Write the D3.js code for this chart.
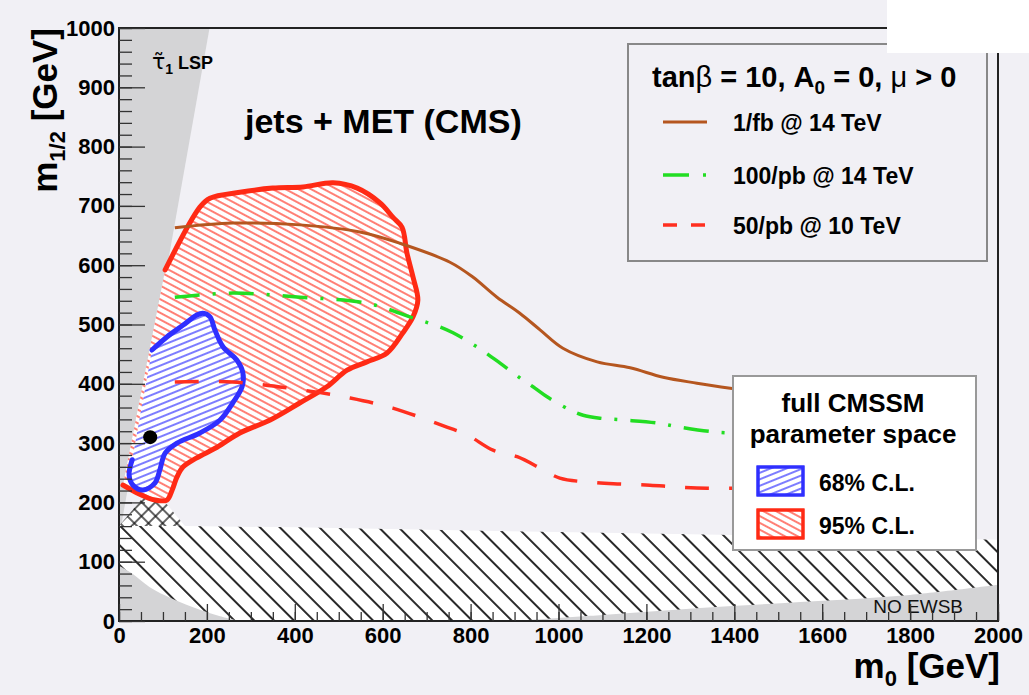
<!DOCTYPE html>
<html>
<head>
<meta charset="utf-8">
<script src="https://cdn.jsdelivr.net/npm/d3@7"></script>
<style>
  body { margin: 0; background: #f1f0f5; }
  svg { display: block; }
  text { font-family: "Liberation Sans", Arial, sans-serif; font-weight: bold; fill: #000; }
  .tick text { font-size: 22px; }
</style>
</head>
<body>
<svg width="1029" height="695"></svg>
<script>
// ---- data (m0, m1/2) in GeV ----
var stauLSP = [[0, 1000], [206, 1000], [0, 140]];
var hatchTop = [[0, 160], [150, 160], [400, 158], [1000, 150], [1500, 144], [2000, 137]];
var lowGray = [[0, 93], [30, 80], [70, 57], [120, 38], [184, 19], [230, 8], [275, 0]];
var noEWSB = [[900, 0], [1100, 10], [1322, 22], [1550, 32], [1800, 44], [2000, 61]];
var crossHatch = [[0, 160], [70, 222], [100, 205], [150, 160]];

var cl95 = [[105,592],[184,698],[207,713],[275,723],[350,730],[419,732],[487,739],[542,730],
  [594,705],[623,681],[644,664],[655,621],[669,580],[680,541],[669,513],[646,486],[610,452],
  [564,437],[519,423],[473,395],[412,368],[344,339],[275,317],[223,293],[177,275],[146,260],
  [132,243],[121,221],[109,204],[82,204],[41,216],[9,229]];
var cl68 = [[75,457],[109,479],[146,499],[177,516],[191,519],[207,513],[218,491],[237,462],
  [268,440],[282,418],[280,395],[259,368],[230,339],[184,317],[132,300],[105,283],[93,255],
  [82,233],[55,221],[32,229],[23,246],[30,272]];
var bestFit = [71, 310];

var lumi1fb14 = [[127,663],[259,671],[412,668],[548,656],[639,637],[753,605],[805,580],[860,546],
  [912,519],[958,491],[1010,460],[1088,437],[1163,427],[1238,411],[1315,401],[1395,392]];
var lumi100pb14 = [[127,546],[259,553],[412,546],[564,536],[669,511],[730,496],[760,486],[815,462],
  [867,435],[912,410],[942,395],[974,378],[1026,356],[1056,347],[1094,342],[1147,339],[1224,334],
  [1276,327],[1352,319],[1395,317]];
var lumi50pb10 = [[127,403],[259,403],[412,390],[526,376],[623,359],[746,327],[792,314],[851,288],
  [906,277],[965,255],[1003,241],[1088,233],[1140,231],[1208,229],[1270,226],[1338,224],[1395,224]];

var xMajor = d3.range(0, 2001, 200);
var xMinor = d3.range(0, 2001, 50);
var yMajor = d3.range(0, 1001, 100);
var yMinor = d3.range(0, 1001, 20);

var lineSeries = [
  {name: '1/fb @ 14 TeV', data: lumi1fb14, color: '#b5561f', width: 3, dash: null},
  {name: '100/pb @ 14 TeV', data: lumi100pb14, color: '#22dd22', width: 3.5, dash: '25,13,3,13'},
  {name: '50/pb @ 10 TeV', data: lumi50pb10, color: '#ff2f1f', width: 3.5, dash: '24,20'}
];

var svg = d3.select('svg');
var x = d3.scaleLinear().domain([0, 2000]).range([119, 998]);
var y = d3.scaleLinear().domain([0, 1000]).range([621, 28]);

// hatch patterns
var defs = svg.append('defs');
function hatch(id, size, angle, color, w) {
  var p = defs.append('pattern').attr('id', id)
    .attr('patternUnits', 'userSpaceOnUse')
    .attr('width', size).attr('height', size)
    .attr('patternTransform', 'rotate(' + angle + ')');
  p.append('line').attr('x1', 0).attr('x2', size).attr('y1', size / 2).attr('y2', size / 2)
    .attr('stroke', color).attr('stroke-width', w);
  return p;
}
hatch('hBlack', 14, 45, '#111', 1.8);
hatch('hRed', 6, 28, '#ff3a2a', 1.3);
hatch('hBlue', 6, -22, '#3535ff', 1.3);
var cp = hatch('hCross', 10, 45, '#111', 1.3);
cp.append('line').attr('x1', 5).attr('x2', 5).attr('y1', 0).attr('y2', 10)
  .attr('stroke', '#111').attr('stroke-width', 1.3);

var poly = d3.line().x(function(d){ return x(d[0]); }).y(function(d){ return y(d[1]); });
var smooth = d3.line().x(function(d){ return x(d[0]); }).y(function(d){ return y(d[1]); })
  .curve(d3.curveCatmullRom.alpha(0.5));

var plot = svg.append('g');

// stau LSP region
plot.append('path').attr('d', poly(stauLSP) + 'Z').attr('fill', '#d4d4d6');

// excluded (hatched) band at bottom
var band = hatchTop.concat([[2000, 0], [0, 0]]);
plot.append('path').attr('d', poly(band) + 'Z').attr('fill', '#fff');
plot.append('path').attr('d', poly(band) + 'Z').attr('fill', 'url(#hBlack)');
plot.append('path').attr('d', smooth(lowGray) + 'L' + x(0) + ',' + y(0) + 'Z').attr('fill', '#d4d4d6');
plot.append('path').attr('d', smooth(noEWSB) + 'L' + x(2000) + ',' + y(0) + 'Z').attr('fill', '#d4d4d6');
plot.append('path').attr('d', poly(crossHatch) + 'Z').attr('fill', '#fff');
plot.append('path').attr('d', poly(crossHatch) + 'Z').attr('fill', 'url(#hCross)');

// 95% and 68% regions
function region(data, pat, color) {
  plot.append('path').attr('d', smooth(data) + 'Z').attr('fill', '#fff');
  plot.append('path').attr('d', smooth(data) + 'Z').attr('fill', 'url(#' + pat + ')');
  plot.append('path').attr('d', smooth(data)).attr('fill', 'none')
    .attr('stroke', color).attr('stroke-width', 5).attr('stroke-linejoin', 'round').attr('stroke-linecap', 'round');
}
region(cl95, 'hRed', '#ff2a14');
region(cl68, 'hBlue', '#2f2fff');

// reach curves
lineSeries.forEach(function(s) {
  plot.append('path').attr('d', smooth(s.data)).attr('fill', 'none')
    .attr('stroke', s.color).attr('stroke-width', s.width)
    .attr('stroke-dasharray', s.dash);
});

plot.append('circle').attr('cx', x(bestFit[0])).attr('cy', y(bestFit[1])).attr('r', 7).attr('fill', '#000');

// labels inside plot
var stau = svg.append('text').attr('x', 152).attr('y', 69);
stau.append('tspan').text('τ\u0303').style('font-family', 'DejaVu Sans').style('font-weight', 'normal').style('font-size', '22px');
stau.append('tspan').text('1').style('font-size', '14px').attr('dy', 5);
stau.append('tspan').text(' LSP').style('font-size', '18px').attr('dy', -5);

svg.append('text').attr('x', 245).attr('y', 133).style('font-size', '34px').text('jets + MET (CMS)');
svg.append('text').attr('x', 963).attr('y', 613).attr('text-anchor', 'end')
  .style('font-size', '19px').style('font-weight', 'normal').style('fill', '#111').text('NO EWSB');

// legend 1
svg.append('rect').attr('x', 628).attr('y', 44).attr('width', 359).attr('height', 217)
  .attr('fill', '#f1f0f5').attr('stroke', '#888').attr('stroke-width', 2);
var hdr = svg.append('text').attr('x', 652).attr('y', 87).style('font-size', '29px');
hdr.append('tspan').text('tan');
hdr.append('tspan').text('β').style('font-weight', 'normal');
hdr.append('tspan').text(' = 10, A');
hdr.append('tspan').text('0').style('font-size', '19px').attr('dy', 7);
hdr.append('tspan').text(' = 0, ').attr('dy', -7);
hdr.append('tspan').text('μ').style('font-weight', 'normal');
hdr.append('tspan').text(' > 0');

var legY = [122, 175, 225];
lineSeries.forEach(function(s, i) {
  svg.append('line').attr('x1', 663).attr('x2', 707).attr('y1', legY[i]).attr('y2', legY[i])
    .attr('stroke', s.color).attr('stroke-width', s.width)
    .attr('stroke-dasharray', s.dash ? (i === 1 ? '26,14,3,13' : '14,14') : null);
  svg.append('text').attr('x', 733).attr('y', legY[i] + 9).style('font-size', '23px').text(s.name);
});

// legend 2
svg.append('rect').attr('x', 733).attr('y', 376).attr('width', 243).attr('height', 174)
  .attr('fill', '#fff').attr('stroke', '#999').attr('stroke-width', 2);
svg.append('text').attr('x', 853).attr('y', 412).attr('text-anchor', 'middle').style('font-size', '26px').text('full CMSSM');
svg.append('text').attr('x', 853).attr('y', 443).attr('text-anchor', 'middle').style('font-size', '26px').text('parameter space');
[['hBlue', '#2f2fff', 467, '68% C.L.'], ['hRed', '#ff2a14', 510, '95% C.L.']].forEach(function(e) {
  svg.append('rect').attr('x', 758).attr('y', e[2]).attr('width', 45).attr('height', 28)
    .attr('fill', '#fff').attr('stroke', e[1]).attr('stroke-width', 3);
  svg.append('rect').attr('x', 758).attr('y', e[2]).attr('width', 45).attr('height', 28)
    .attr('fill', 'url(#' + e[0] + ')').attr('stroke', e[1]).attr('stroke-width', 3);
  svg.append('text').attr('x', 819).attr('y', e[2] + 24).style('font-size', '23px').text(e[3]);
});

// frame + axes
svg.append('rect').attr('x', 119).attr('y', 28).attr('width', 879).attr('height', 593)
  .attr('fill', 'none').attr('stroke', '#222').attr('stroke-width', 2);

var xAxisMinor = d3.axisBottom(x).tickValues(xMinor).tickSize(-9).tickFormat('');
var xAxis = d3.axisBottom(x).tickValues(xMajor).tickSize(-17).tickPadding(6).tickFormat(d3.format('d'));
var yAxisMinor = d3.axisLeft(y).tickValues(yMinor).tickSize(-13).tickFormat('');
var yAxis = d3.axisLeft(y).tickValues(yMajor).tickSize(-26).tickPadding(4).tickFormat(d3.format('d'));

function drawAxis(ax, tr) {
  var g = svg.append('g').attr('transform', tr).call(ax);
  g.select('.domain').remove();
  g.selectAll('line').attr('stroke', '#333').attr('stroke-width', 1.3);
  g.selectAll('text').attr('fill', '#000');
  return g;
}
drawAxis(xAxisMinor, 'translate(0,621)');
drawAxis(xAxis, 'translate(0,621)');
drawAxis(yAxisMinor, 'translate(119,0)');
drawAxis(yAxis, 'translate(119,0)');

// axis titles
var xt = svg.append('text').attr('x', 1000).attr('y', 678).attr('text-anchor', 'end').style('font-size', '35px');
xt.append('tspan').text('m');
xt.append('tspan').text('0').style('font-size', '22px').attr('dy', 8);
xt.append('tspan').text(' [GeV]').attr('dy', -8);

var yt = svg.append('text').attr('transform', 'translate(57,28) rotate(-90)').attr('text-anchor', 'end').style('font-size', '35px');
yt.append('tspan').text('m');
yt.append('tspan').text('1/2').style('font-size', '22px').attr('dy', 8);
yt.append('tspan').text(' [GeV]').attr('dy', -8);

// white patch in the top-right corner of the picture
svg.append('rect').attr('x', 887).attr('y', 0).attr('width', 142).attr('height', 53).attr('fill', '#fff');
</script>
</body>
</html>
